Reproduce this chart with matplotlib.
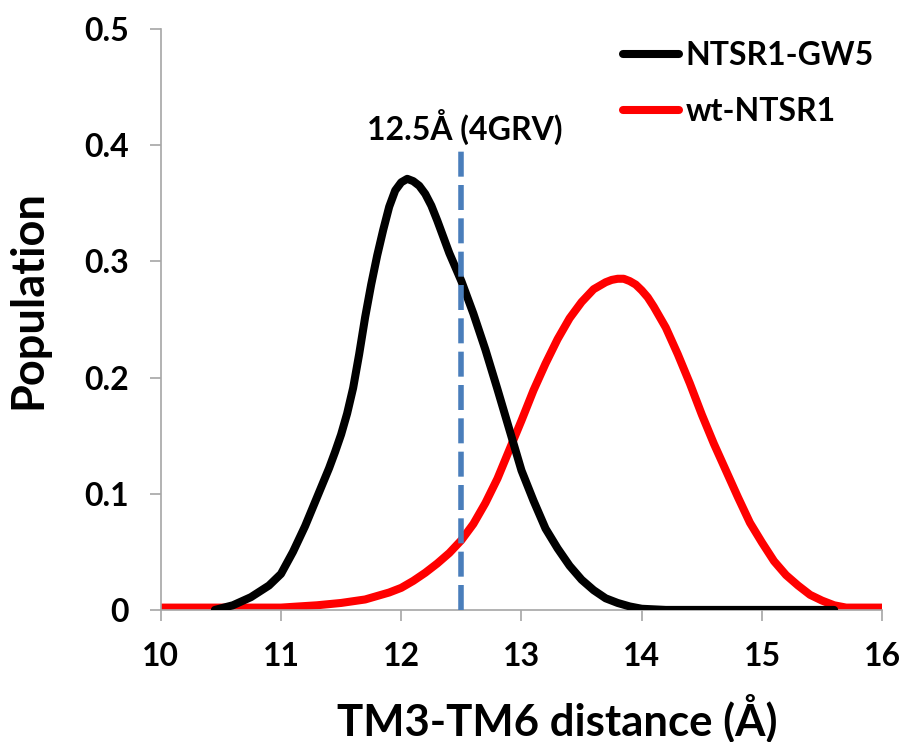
import matplotlib
matplotlib.use("Agg")
from matplotlib import pyplot as plt

# black curve: NTSR1-GW5
gw5_x = [10.45, 10.6, 10.75, 10.9, 11.0, 11.1, 11.2, 11.3, 11.4, 11.45, 11.5, 11.55, 11.6,
         11.65, 11.7, 11.75, 11.8, 11.85, 11.9, 11.95, 12.0, 12.05, 12.1, 12.15, 12.2, 12.25,
         12.3, 12.4, 12.5, 12.6, 12.7, 12.8, 12.9, 13.0, 13.1, 13.2, 13.3, 13.4, 13.5, 13.6,
         13.7, 13.8, 13.9, 14.0, 14.2, 15.6]
gw5_y = [0.0, 0.004, 0.011, 0.021, 0.031, 0.050, 0.072, 0.097, 0.122, 0.136, 0.151, 0.169,
         0.191, 0.220, 0.252, 0.280, 0.305, 0.327, 0.347, 0.361, 0.368, 0.371, 0.369, 0.365,
         0.358, 0.348, 0.335, 0.307, 0.283, 0.255, 0.224, 0.190, 0.155, 0.120, 0.094, 0.070,
         0.053, 0.038, 0.026, 0.017, 0.010, 0.006, 0.003, 0.001, 0.0, 0.0]

# red curve: wt-NTSR1
wt_x = [10.0, 10.5, 11.0, 11.3, 11.5, 11.7, 11.9, 12.0, 12.1, 12.2, 12.3, 12.4, 12.5, 12.6,
        12.7, 12.8, 12.9, 13.0, 13.1, 13.2, 13.3, 13.4, 13.5, 13.6, 13.65, 13.7, 13.75, 13.8,
        13.85, 13.9, 13.95, 14.0, 14.05, 14.1, 14.2, 14.3, 14.4, 14.5, 14.6, 14.7, 14.8,
        14.9, 15.0, 15.1, 15.2, 15.3, 15.4, 15.5, 15.6, 15.7, 16.0]
wt_y = [0.002, 0.002, 0.002, 0.004, 0.006, 0.009, 0.015, 0.019, 0.025, 0.032, 0.040, 0.049,
        0.060, 0.074, 0.092, 0.113, 0.138, 0.163, 0.189, 0.212, 0.233, 0.251, 0.265, 0.276,
        0.279, 0.282, 0.284, 0.285, 0.285, 0.283, 0.280, 0.275, 0.269, 0.261, 0.243, 0.220,
        0.195, 0.168, 0.143, 0.120, 0.097, 0.075, 0.058, 0.042, 0.030, 0.021, 0.013, 0.008,
        0.004, 0.002, 0.002]

ref_x = 12.5
ref_top = 0.4
ref_label = "12.5Å (4GRV)"

xticks = [10, 11, 12, 13, 14, 15, 16]
yticks = [0, 0.1, 0.2, 0.3, 0.4, 0.5]
ytick_labels = ["0", "0.1", "0.2", "0.3", "0.4", "0.5"]

plt.rcParams['font.family'] = ['Lato', 'DejaVu Sans']
plt.rcParams['font.weight'] = 'bold'

fig = plt.figure(figsize=(9.03, 7.42), dpi=100)
ax = fig.add_axes([0.178, 0.178, 0.799, 0.783])

ax.plot(wt_x, wt_y, color='#ff0000', lw=5.8, solid_capstyle='round', solid_joinstyle='round',
        label='wt-NTSR1', zorder=2)
ax.plot(gw5_x, gw5_y, color='black', lw=5.8, solid_capstyle='round', solid_joinstyle='round',
        label='NTSR1-GW5', zorder=3)
ax.plot([ref_x, ref_x], [0, ref_top], color='#4a7ebb', lw=4, dashes=(4.5, 1.5), zorder=4)
ax.text(ref_x + 0.03, ref_top + 0.016, ref_label, ha='center', va='center', fontsize=23,
        fontweight='bold')

ax.set_xlim(10, 16)
ax.set_ylim(0, 0.5)
ax.set_xticks(xticks)
ax.set_yticks(yticks)
ax.set_yticklabels(ytick_labels)

for s in ['top', 'right']:
    ax.spines[s].set_visible(False)
for s in ['left', 'bottom']:
    ax.spines[s].set_color('#a6a6a6')
    ax.spines[s].set_linewidth(1.2)
ax.tick_params(direction='out', length=8, width=1.2, color='#a6a6a6', labelsize=23, pad=15)

ax.set_xlabel('TM3-TM6 distance (Å)', fontsize=31.5, fontweight='bold')
ax.xaxis.set_label_coords(0.55, -0.143)
ax.set_ylabel('Population', fontsize=32.5, fontweight='bold')
ax.yaxis.set_label_coords(-0.155, 0.535)

h, l = ax.get_legend_handles_labels()
leg = fig.legend(h[::-1], l[::-1], loc='upper left', bbox_to_anchor=(0.69, 0.945), frameon=False,
                 fontsize=23, handlelength=1.75, handletextpad=0.2, labelspacing=0.85,
                 borderpad=0, borderaxespad=0)

fig.savefig('out.png', dpi=100)
